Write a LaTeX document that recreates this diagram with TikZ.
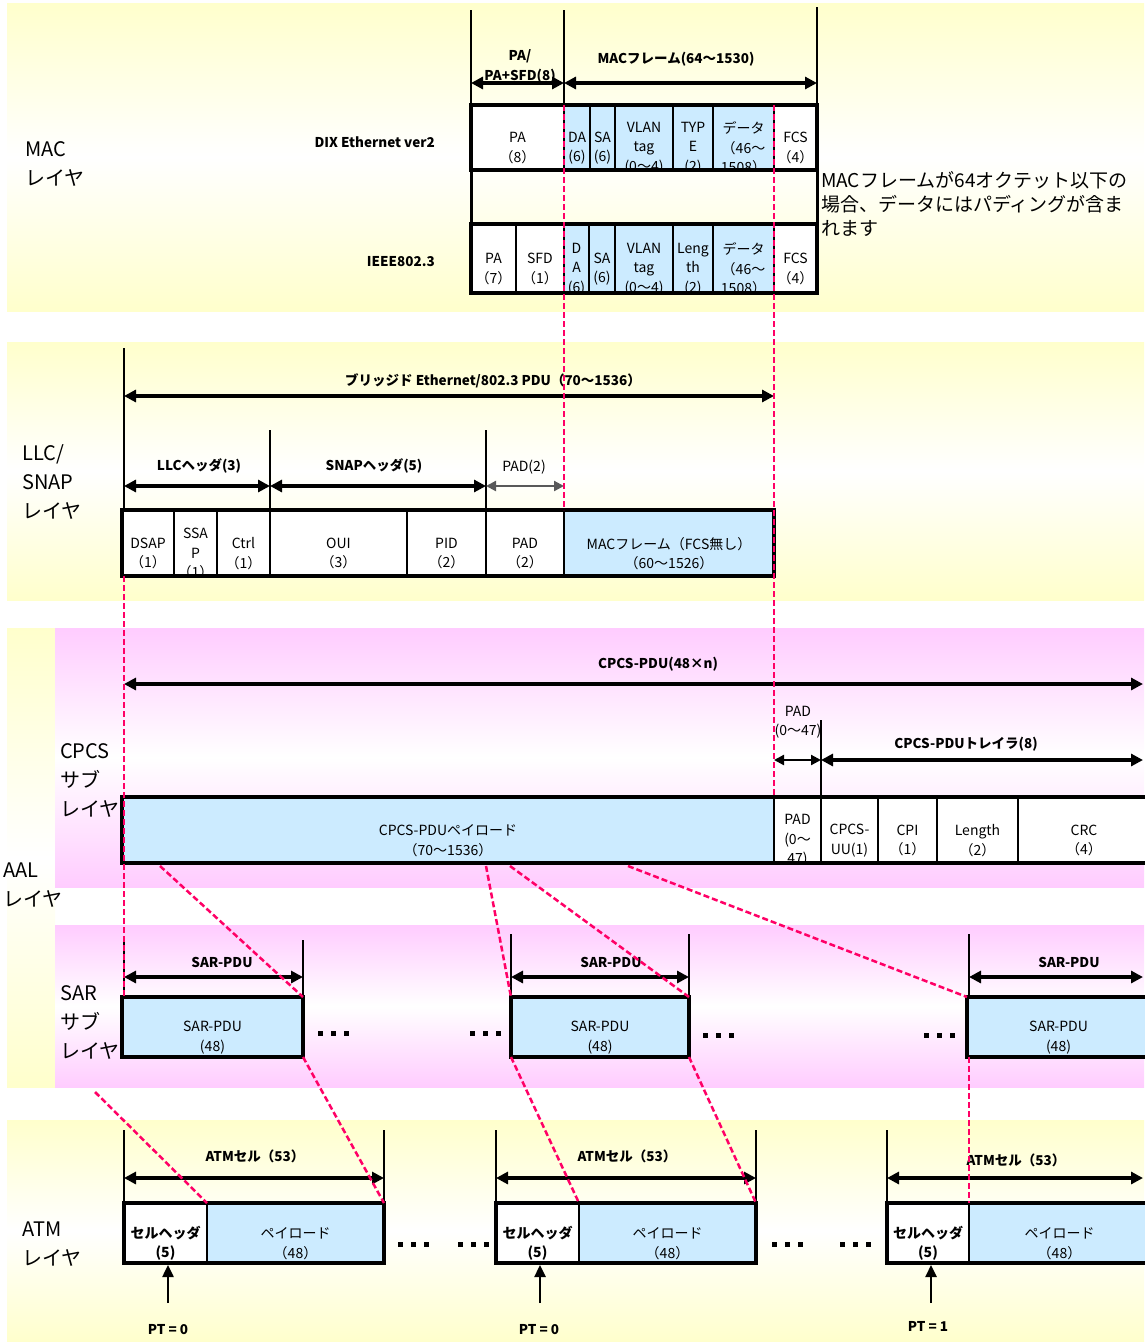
\documentclass[tikz,border=0pt]{standalone}
\usepackage{fontspec}
\setmainfont{Noto Sans CJK JP}
\usetikzlibrary{arrows.meta}
\definecolor{yel}{RGB}{255,255,204}
\definecolor{pnk}{RGB}{255,204,255}
\definecolor{cblue}{RGB}{204,235,255}
\definecolor{rdash}{RGB}{255,0,102}
\newcommand\mkcell[7]{%
  \fill[#6] (#2,#4) rectangle (#3,#5);
  \begin{scope}
    \clip (#2,#4) rectangle (#3,#5);
    \node[ctext] (#1) at ({(#2+#3)/2},{(#4+#5)/2+10.5}) {#7};
  \end{scope}
  \draw[sepl] (#2,#4) -- (#2,#5) (#3,#4) -- (#3,#5);
}
\newcommand\mkdots[3]{%
  \foreach \k in {0,1,2} {\fill[black] ({#2+13*\k},{#3-2.5}) rectangle ++(5,5);}
  \coordinate (#1) at (#2,#3);
}
\begin{document}
\begin{tikzpicture}[x=1pt,y=-1pt,
  lbl/.style={font=\fontsize{20}{29}\selectfont, align=left, anchor=west, inner sep=0},
  ctext/.style={font=\fontsize{14}{19.5}\selectfont, align=center, inner sep=0},
  btext/.style={font=\bfseries\fontsize{13.5}{19}\selectfont, inner sep=0},
  rtext/.style={font=\fontsize{14}{19}\selectfont, align=center, inner sep=0},
  dimarrow/.style={line width=3.5pt, {Triangle[length=12pt,width=12pt]}-{Triangle[length=12pt,width=12pt]}},
  dimthin/.style={line width=2.2pt, {Triangle[length=10pt,width=10pt]}-{Triangle[length=10pt,width=10pt]}},
  guide/.style={line width=1.2pt},
  thickbox/.style={line width=4.5pt},
  sepl/.style={line width=1.2pt},
  rdl/.style={draw=rdash, line width=2.5pt, dash pattern=on 6pt off 3pt},
  upar/.style={line width=2.5pt, -{Triangle[length=12pt,width=11pt]}}
]
\useasboundingbox (0,0) rectangle (1144,1342);
% ---------- backgrounds
\shade[top color=yel, bottom color=yel, middle color=white] (7,3) rectangle (1144,311);
\shade[top color=yel, bottom color=yel, middle color=white] (7,342) rectangle (1144,600);
\shade[top color=yel, bottom color=yel, middle color=white] (7,628) rectangle (55,1087);
\shade[top color=pnk, bottom color=pnk, middle color=white] (55,628) rectangle (1144,887);
\shade[top color=pnk, bottom color=pnk, middle color=white] (55,925) rectangle (1144,1087);
\shade[top color=yel, bottom color=yel, middle color=white] (7,1120) rectangle (1144,1342);

% ================= MAC layer
\node[lbl] (macL) at (25,164) {MAC\\レイヤ};
\node[btext, anchor=east] (dix) at (435,142) {DIX Ethernet ver2};
\node[btext, anchor=east] (ieee) at (435,262) {IEEE802.3};
\coordinate (mA) at (471,83); \coordinate (mB) at (564,83); \coordinate (mC) at (817,83);
\draw[guide] (471,10) -- (471,105) (564,10) -- (564,105) (817,7) -- (817,105);
\node[btext] (pa1) at (520,56) {PA/};
\node[btext] (pa2) at (520,76) {PA+SFD(8)};
\node[btext] (macf) at (676,59) {MACフレーム(64～1530)};
\draw[dimarrow] (mA) -- (mB);
\draw[dimarrow] (mB) -- (mC);
% DIX
\mkcell{d1}{471}{564}{105}{170}{white}{PA\\（8）}
\mkcell{d2}{564}{590}{105}{170}{cblue}{DA\\(6)}
\mkcell{d3}{590}{615}{105}{170}{cblue}{SA\\(6)}
\mkcell{d4}{615}{673}{105}{170}{cblue}{VLAN\\tag\\(0～4)}
\mkcell{d5}{673}{713}{105}{170}{cblue}{TYP\\E\\(2)}
\mkcell{d6}{713}{774}{105}{170}{cblue}{データ\\（46～\\1508）}
\mkcell{d7}{774}{817}{105}{170}{white}{FCS\\（4）}
\draw[thickbox] (471,105) rectangle (817,170);
\draw[line width=3pt] (471,170) -- (471,224) (817,170) -- (817,224);
% IEEE
\mkcell{e1}{471}{516}{224}{293}{white}{PA\\（7）}
\mkcell{e2}{516}{564}{224}{293}{white}{SFD\\（1）}
\mkcell{e3}{564}{589}{224}{293}{cblue}{D\\A\\(6)}
\mkcell{e4}{589}{615}{224}{293}{cblue}{SA\\(6)}
\mkcell{e5}{615}{673}{224}{293}{cblue}{VLAN\\tag\\(0～4)}
\mkcell{e6}{673}{713}{224}{293}{cblue}{Leng\\th\\(2)}
\mkcell{e7}{713}{774}{224}{293}{cblue}{データ\\（46～\\1508）}
\mkcell{e8}{774}{817}{224}{293}{white}{FCS\\（4）}
\draw[thickbox] (471,224) rectangle (817,293);
\node[anchor=north west, inner sep=0, font=\fontsize{19}{24}\selectfont, align=left] (note) at (821,171)
  {MACフレームが64オクテット以下の\\場合、データにはパディングが含ま\\れます};

% ================= LLC/SNAP layer
\node[lbl] (llcL) at (22,482) {LLC/\\SNAP\\レイヤ};
\draw[guide] (124,348) -- (124,510) (270,430) -- (270,510) (486,430) -- (486,510);
\node[btext] (pdu) at (493,381) {ブリッジド Ethernet/802.3 PDU（70～1536）};
\coordinate (lA) at (124,396); \coordinate (lB) at (774,396);
\draw[dimarrow] (lA) -- (lB);
\node[btext] (llch) at (199,466) {LLCヘッダ(3)};
\node[btext] (snaph) at (374,466) {SNAPヘッダ(5)};
\node[rtext] (pad2) at (524,467) {PAD(2)};
\coordinate (h1) at (124,486); \coordinate (h2) at (270,486); \coordinate (h3) at (486,486); \coordinate (h4) at (564,486);
\draw[dimarrow] (h1) -- (h2);
\draw[dimarrow] (h2) -- (h3);
\draw[dimthin, gray!70!black] (h3) -- (h4);
\mkcell{l1}{122}{174}{510}{576}{white}{DSAP\\（1）}
\mkcell{l2}{174}{217}{510}{576}{white}{SSA\\P\\（1）}
\mkcell{l3}{217}{270}{510}{576}{white}{Ctrl\\（1）}
\mkcell{l4}{270}{407}{510}{576}{white}{OUI\\（3）}
\mkcell{l5}{407}{486}{510}{576}{white}{PID\\（2）}
\mkcell{l6}{486}{564}{510}{576}{white}{PAD\\（2）}
\mkcell{l7}{564}{774}{510}{576}{cblue}{MACフレーム（FCS無し）\\（60～1526）}
\draw[thickbox] (122,510) rectangle (774,576);

% ================= CPCS sublayer
\node[lbl] (cpcsL) at (60,780) {CPCS\\サブ\\レイヤ};
\node[lbl] (aalL) at (3,885) {AAL\\レイヤ};
\node[btext] (cpdu) at (658,664) {CPCS-PDU(48×n)};
\coordinate (cA) at (124,684); \coordinate (cB) at (1143,684);
\draw[dimarrow] (cA) -- (cB);
\node[rtext] (padt) at (798,722) {PAD\\(0～47)};
\draw[guide] (821,720) -- (821,863);
\node[btext] (trl) at (966,744) {CPCS-PDUトレイラ(8)};
\coordinate (t1) at (774,760); \coordinate (t2) at (821,760); \coordinate (t3) at (1143,760);
\draw[dimthin] (t1) -- (t2);
\draw[dimarrow] (t2) -- (t3);
\mkcell{c1}{122}{774}{797}{863}{cblue}{CPCS-PDUペイロード\\（70～1536）}
\mkcell{c2}{774}{821}{797}{863}{white}{PAD\\(0～\\47)}
\mkcell{c3}{821}{878}{797}{863}{white}{CPCS-\\UU(1)}
\mkcell{c4}{878}{937}{797}{863}{white}{CPI\\（1）}
\mkcell{c5}{937}{1018}{797}{863}{white}{Length\\（2）}
\mkcell{c6}{1018}{1150}{797}{863}{white}{CRC\\（4）}
\draw[thickbox] (1150,797) -- (122,797) -- (122,863) -- (1150,863);

% ================= SAR sublayer
\node[lbl] (sarL) at (60,1022) {SAR\\サブ\\レイヤ};
\draw[guide] (124,940) -- (124,997) (303,940) -- (303,997)
             (511,934) -- (511,997) (689,934) -- (689,997) (969,934) -- (969,997);
\node[btext] (s1t) at (222,962) {SAR-PDU};
\node[btext] (s2t) at (611,962) {SAR-PDU};
\node[btext] (s3t) at (1069,962) {SAR-PDU};
\coordinate (sa1) at (124,977); \coordinate (sa2) at (303,977);
\coordinate (sb1) at (511,977); \coordinate (sb2) at (689,977);
\coordinate (sc1) at (969,977); \coordinate (sc2) at (1143,977);
\draw[dimarrow] (sa1) -- (sa2);
\draw[dimarrow] (sb1) -- (sb2);
\draw[dimarrow] (sc1) -- (sc2);
\mkcell{s1}{122}{303}{997}{1057}{cblue}{SAR-PDU\\(48)}
\mkcell{s2}{511}{689}{997}{1057}{cblue}{SAR-PDU\\(48)}
\mkcell{s3}{967}{1150}{997}{1057}{cblue}{SAR-PDU\\(48)}
\draw[thickbox] (122,997) rectangle (303,1057);
\draw[thickbox] (511,997) rectangle (689,1057);
\draw[thickbox] (1150,997) -- (967,997) -- (967,1057) -- (1150,1057);
\mkdots{sd1}{318}{1033}
\mkdots{sd2}{470}{1033}
\mkdots{sd3}{703}{1035}
\mkdots{sd4}{924}{1035}

% ================= ATM layer
\node[lbl] (atmL) at (22,1244) {ATM\\レイヤ};
\draw[guide] (124,1130) -- (124,1203) (384,1130) -- (384,1203)
             (496,1130) -- (496,1203) (756,1130) -- (756,1203) (887,1130) -- (887,1203);
\node[btext] (a1t) at (255,1156) {ATMセル（53）};
\node[btext] (a2t) at (627,1156) {ATMセル（53）};
\node[btext] (a3t) at (1016,1160) {ATMセル（53）};
\coordinate (aa1) at (124,1178); \coordinate (aa2) at (384,1178);
\coordinate (ab1) at (496,1178); \coordinate (ab2) at (756,1178);
\coordinate (ac1) at (887,1178); \coordinate (ac2) at (1143,1178);
\draw[dimarrow] (aa1) -- (aa2);
\draw[dimarrow] (ab1) -- (ab2);
\draw[dimarrow] (ac1) -- (ac2);
\mkcell{a1h}{124}{207}{1203}{1263}{white}{\bfseries セルヘッダ\\\bfseries (5)}
\mkcell{a1p}{207}{384}{1203}{1263}{cblue}{ペイロード\\（48）}
\mkcell{a2h}{496}{579}{1203}{1263}{white}{\bfseries セルヘッダ\\\bfseries (5)}
\mkcell{a2p}{579}{756}{1203}{1263}{cblue}{ペイロード\\（48）}
\mkcell{a3h}{887}{969}{1203}{1263}{white}{\bfseries セルヘッダ\\\bfseries (5)}
\mkcell{a3p}{969}{1150}{1203}{1263}{cblue}{ペイロード\\（48）}
\draw[thickbox] (124,1203) rectangle (384,1263);
\draw[thickbox] (496,1203) rectangle (756,1263);
\draw[thickbox] (1150,1203) -- (887,1203) -- (887,1263) -- (1150,1263);
\mkdots{ad1}{398}{1244}
\mkdots{ad2}{458}{1244}
\mkdots{ad3}{772}{1244}
\mkdots{ad4}{840}{1244}
\node[btext] (pt1) at (168,1330) {PT = 0};
\node[btext] (pt2) at (539,1330) {PT = 0};
\node[btext] (pt3) at (928,1326) {PT = 1};
\coordinate (u1) at (168,1265); \coordinate (u2) at (540,1265); \coordinate (u3) at (931,1265);
\draw[upar] (168,1303) -- (u1);
\draw[upar] (540,1303) -- (u2);
\draw[upar] (931,1303) -- (u3);

% ================= red dashed mapping lines
\draw[rdl] (564,105) -- (564,510);
\draw[rdl] (774,105) -- (774,797);
\draw[rdl] (124,576) -- (124,997);
\draw[rdl] (160,866) -- (303,997);
\draw[rdl] (303,1057) -- (384,1203);
\draw[rdl] (95,1092) -- (207,1203);
\draw[rdl] (486,866) -- (511,997);
\draw[rdl] (510,866) -- (689,997);
\draw[rdl] (628,866) -- (967,997);
\draw[rdl] (511,1057) -- (579,1203);
\draw[rdl] (689,1057) -- (756,1203);
\draw[rdl] (969,1057) -- (969,1203);
\end{tikzpicture}
\end{document}
